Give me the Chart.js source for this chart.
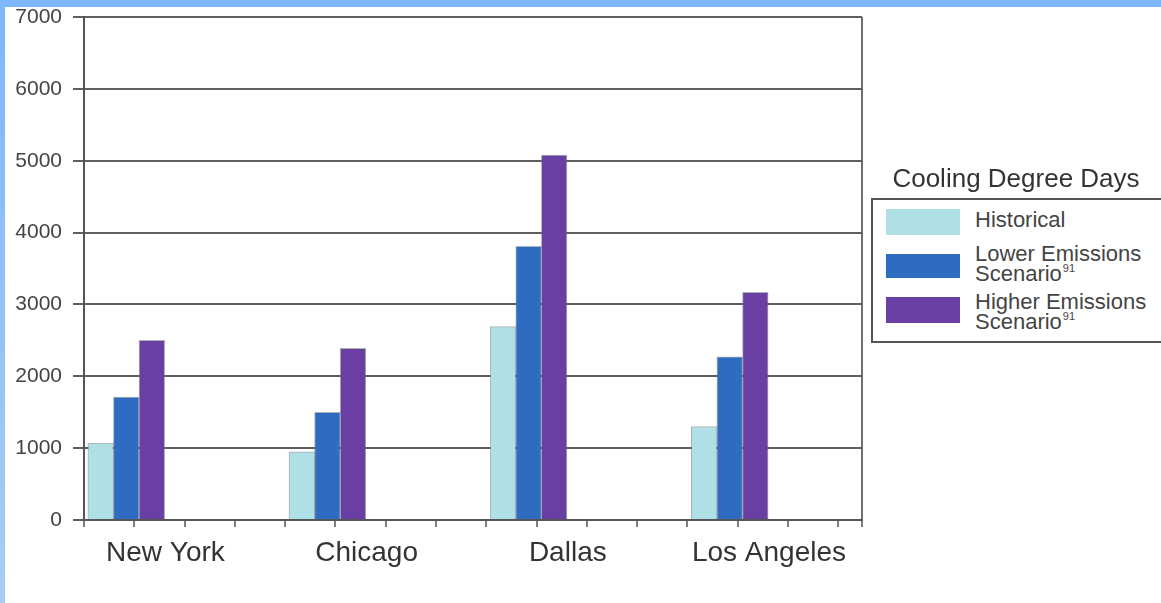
<!DOCTYPE html>
<html>
<head>
<meta charset="utf-8">
<title>Cooling Degree Days</title>
<script src="https://cdn.jsdelivr.net/npm/chart.js@4/dist/chart.umd.min.js"></script>
<style>
  html, body { margin: 0; padding: 0; background: #fff; }
  body {
    width: 1161px; height: 603px; position: relative; overflow: hidden;
    font-family: "Liberation Sans", Arial, Helvetica, sans-serif; color: #3a3a3a;
  }
  #topband { position: absolute; left: 0; top: 0; width: 1161px; height: 7px; background: #7db7fd; }
  #leftband { position: absolute; left: 0; top: 0; width: 5px; height: 603px;
              background: linear-gradient(#7db7fd, #a9ccf2); }
  #chart { position: absolute; left: 0; top: 0; }
  #legend-title { position: absolute; left: 871px; width: 290px; top: 163px; height: 30px;
                  line-height: 30px; font-size: 26px; text-align: center; color: #333; white-space: nowrap; }
  #legend-box { position: absolute; left: 871px; top: 198px; width: 310px; height: 145px;
                box-sizing: border-box; border: 2px solid #555; background: #fff; }
  .swatch { position: absolute; left: 886px; width: 74px; }
  .entry { position: absolute; left: 975px; font-size: 22px; line-height: 20px; color: #444; white-space: nowrap; }
  .entry .note { font-size: 11px; position: relative; top: -9px; margin-left: 1px; }
</style>
</head>
<body>
<div id="topband"></div>
<div id="leftband"></div>
<canvas id="chart" width="1161" height="603"></canvas>
<div id="legend-title">Cooling Degree Days</div>
<div id="legend-box"></div>
<div id="legend-items"></div>
<script>
// Cooling degree days per city
const categories = ['New York', 'Chicago', 'Dallas', 'Los Angeles'];
const historical = [1070, 950, 2690, 1300];
const lowerEmissions = [1710, 1500, 3810, 2270];
const higherEmissions = [2500, 2390, 5080, 3170];
const yTicks = [0, 1000, 2000, 3000, 4000, 5000, 6000, 7000];

// Legend wording (two-line entries carry a reference note)
const seriesNames = [['Historical'], ['Lower Emissions', 'Scenario'], ['Higher Emissions', 'Scenario']];
const seriesNotes = ['', '91', '91'];
const seriesColors = ['#aee0e5', '#2e6cc1', '#6a3fa3'];

// Horizontal layout: each city takes 4 slots on a linear axis
const SLOTS = 4;
const BAR_CENTER = 0.84;
const LABEL_POS = 1.62;
const X_MAX = 15.47;

const FONT = '"Liberation Sans", Arial, Helvetica, sans-serif';
const near = (a, b) => Math.abs(a - b) < 1e-6;
const toPoints = vals => vals.map((v, i) => ({ x: i * SLOTS + BAR_CENTER, y: v }));
const labelIndex = v => categories.findIndex((c, i) => near(i * SLOTS + LABEL_POS, v));
const isMark = tick => tick && labelIndex(tick.value) < 0;

const seriesValues = [historical, lowerEmissions, higherEmissions];

const chart = new Chart(document.getElementById('chart'), {
  type: 'bar',
  data: {
    datasets: seriesValues.map((vals, s) => ({
      label: seriesNames[s].join(' '),
      data: toPoints(vals),
      backgroundColor: seriesColors[s],
      borderColor: 'rgba(100,112,122,0.55)',
      borderWidth: 1,
      barThickness: 25.6
    }))
  },
  options: {
    responsive: false,
    devicePixelRatio: 1,
    animation: false,
    layout: { padding: { left: 0, top: 17, right: 299, bottom: 0 } },
    plugins: { legend: { display: false }, tooltip: { enabled: false } },
    scales: {
      x: {
        type: 'linear',
        min: 0,
        max: X_MAX,
        offset: false,
        afterBuildTicks(scale) {
          const t = [];
          for (let k = 0; k <= Math.floor(X_MAX); k++) t.push({ value: k });
          t.push({ value: X_MAX });
          categories.forEach((c, i) => t.push({ value: i * SLOTS + LABEL_POS }));
          t.sort((a, b) => a.value - b.value);
          scale.ticks = t;
        },
        afterFit(scale) {
          scale.height = 83;
          scale.paddingLeft = 0;
          scale.paddingRight = 0;
        },
        ticks: {
          autoSkip: false, maxRotation: 0, minRotation: 0, padding: 9,
          font: { family: FONT, size: 28 }, color: '#333',
          callback(value) { const i = labelIndex(value); return i >= 0 ? categories[i] : ''; }
        },
        grid: {
          offset: false,
          drawOnChartArea: true,
          color: ctx => (ctx.tick && near(ctx.tick.value, X_MAX)) ? '#6e6e6e' : 'rgba(0,0,0,0)',
          lineWidth: 2,
          tickLength: 7,
          tickWidth: 1.5,
          tickColor: ctx => isMark(ctx.tick) ? '#555' : 'rgba(0,0,0,0)'
        },
        border: { display: true, color: '#555', width: 2 }
      },
      y: {
        min: 0,
        max: 7000,
        afterBuildTicks(scale) { scale.ticks = yTicks.map(v => ({ value: v })); },
        afterFit(scale) {
          scale.width = 84;
          scale.paddingTop = 0;
          scale.paddingBottom = 0;
        },
        ticks: {
          padding: 11, font: { family: FONT, size: 21 }, color: '#444',
          callback: value => String(value)
        },
        grid: { color: '#5e5e5e', lineWidth: 2, tickLength: 11, tickColor: '#5e5e5e' },
        border: { display: true, color: '#555', width: 2 }
      }
    }
  }
});

// Legend entries built from the chart's datasets
const swatchTops = [209, 254, 297];
const swatchHeights = [26, 24, 26];
const textTops = [210, 244, 292];
const holder = document.getElementById('legend-items');
chart.data.datasets.forEach((ds, s) => {
  const sw = document.createElement('div');
  sw.className = 'swatch';
  sw.style.top = swatchTops[s] + 'px';
  sw.style.height = swatchHeights[s] + 'px';
  sw.style.background = ds.backgroundColor;
  holder.appendChild(sw);

  const entry = document.createElement('div');
  entry.className = 'entry';
  entry.style.top = textTops[s] + 'px';
  const lines = seriesNames[s];
  lines.forEach((line, li) => {
    const row = document.createElement('div');
    row.textContent = line;
    if (li === lines.length - 1 && seriesNotes[s]) {
      const note = document.createElement('span');
      note.className = 'note';
      note.textContent = seriesNotes[s];
      row.appendChild(note);
    }
    entry.appendChild(row);
  });
  holder.appendChild(entry);
});
</script>
</body>
</html>
